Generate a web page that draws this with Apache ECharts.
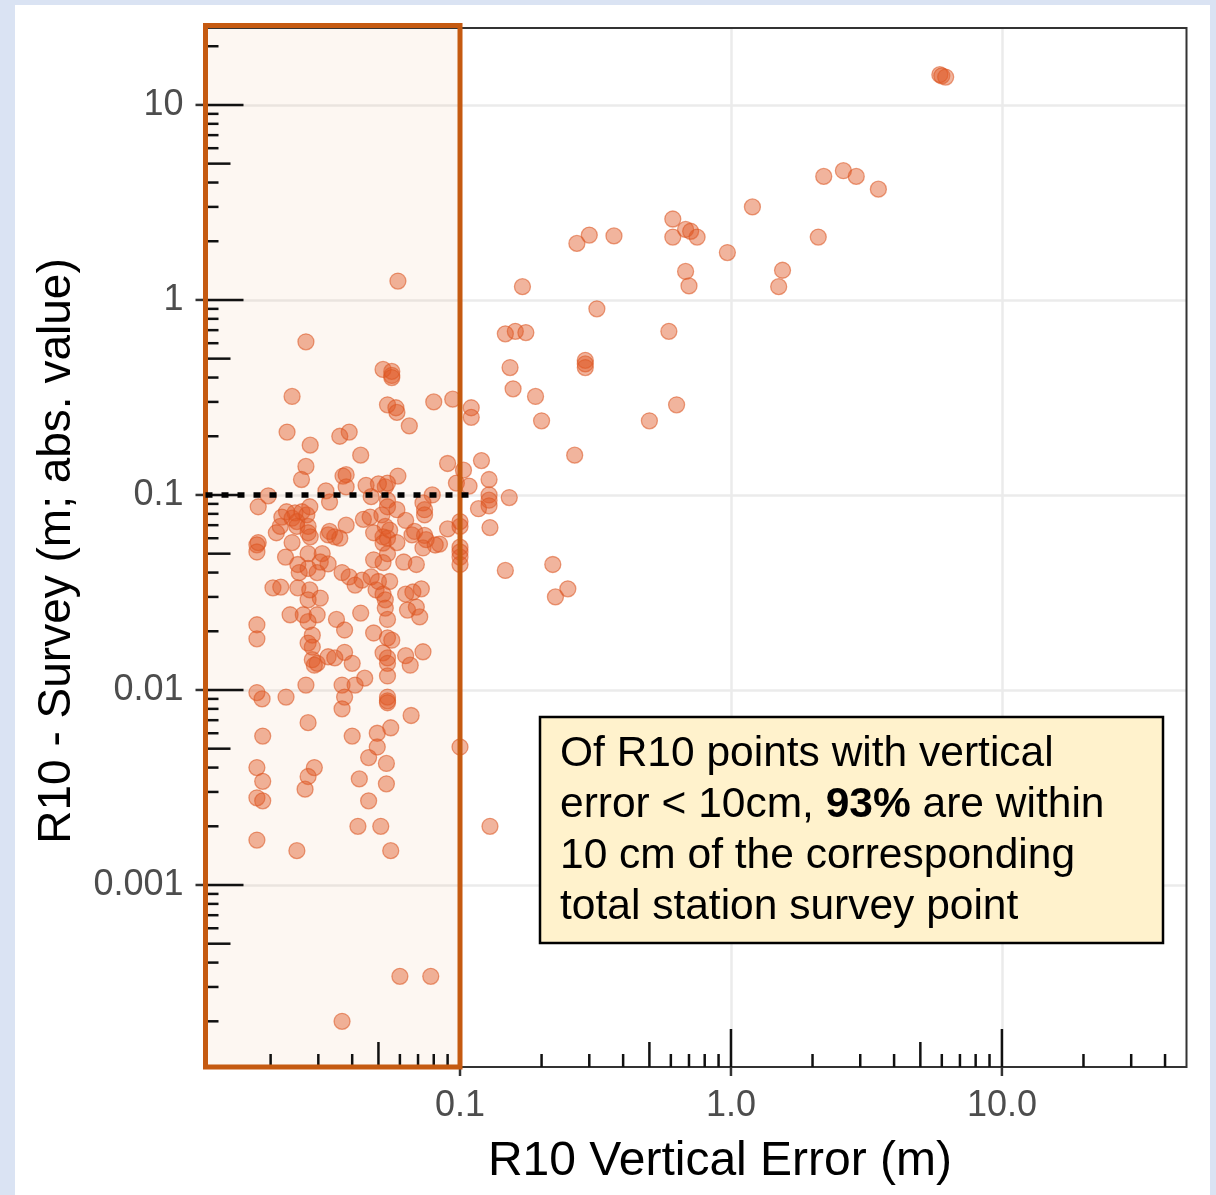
<!DOCTYPE html>
<html>
<head>
<meta charset="utf-8">
<script src="https://cdn.jsdelivr.net/npm/echarts@6/dist/echarts.min.js"></script>
<style>
  html, body { margin: 0; padding: 0; background: #dae3f3; }
  #paper { position: absolute; left: 15px; top: 5px; width: 1195px; height: 1190px; background: #ffffff; }
  #chart { position: absolute; left: 0; top: 0; width: 1216px; height: 1195px; }
</style>
</head>
<body>
<div id="paper"></div>
<div id="chart"></div>
<script>
// ---- Data ----
// R10 vertical error (m), x axis
const verticalError = [
  5.9, 6.0, 6.2,
  2.2, 2.6, 2.9, 3.5,
  1.2, 0.61, 0.68, 0.71, 0.75, 0.61, 0.97, 2.1,
  0.68, 0.70, 1.55, 1.5,
  0.27, 0.30, 0.37, 0.17, 0.32,
  0.147, 0.16, 0.175, 0.59,
  0.29, 0.29, 0.29,
  0.153, 0.19, 0.157, 0.20, 0.50, 0.63, 0.265,
  0.11, 0.11, 0.094, 0.08,
  0.09, 0.103, 0.12, 0.128, 0.097, 0.108,
  0.128, 0.128, 0.128, 0.152, 0.117, 0.129, 0.09,
  0.1, 0.1, 0.1, 0.1, 0.1, 0.1, 0.084,
  0.147, 0.22, 0.25, 0.225,
  0.1, 0.129,
  0.059, 0.027,
  0.052, 0.056, 0.056, 0.056,
  0.024, 0.054, 0.058, 0.0585, 0.065,
  0.023, 0.028, 0.036, 0.039, 0.043,
  0.027, 0.026, 0.037, 0.038, 0.038,
  0.0196, 0.032, 0.018, 0.045, 0.033,
  0.0229, 0.0246, 0.0261, 0.0272, 0.0279,
  0.022, 0.024, 0.025,
  0.021, 0.0217, 0.025, 0.0275, 0.0275, 0.028,
  0.0178, 0.018, 0.0178, 0.024,
  0.0326, 0.0345, 0.036, 0.033, 0.038, 0.044,
  0.0275, 0.031, 0.0227, 0.0305, 0.0326,
  0.0252, 0.0255, 0.0275, 0.0297, 0.0367,
  0.0204, 0.0218, 0.0252, 0.0279, 0.0305, 0.0275,
  0.0236, 0.0264, 0.0297, 0.035, 0.043,
  0.041, 0.0435, 0.039,
  0.059, 0.053, 0.05, 0.054, 0.079, 0.047,
  0.054, 0.054, 0.073, 0.074, 0.074, 0.0585, 0.063,
  0.0466, 0.0515, 0.053, 0.055, 0.048, 0.052,
  0.054, 0.0585, 0.052, 0.0665, 0.068,
  0.074, 0.075, 0.073, 0.081,
  0.054, 0.048, 0.052, 0.062, 0.069,
  0.047, 0.050, 0.055, 0.049, 0.052, 0.053,
  0.063, 0.067, 0.072, 0.064, 0.069, 0.071, 0.053,
  0.0275, 0.0375,
  0.0178, 0.0178,
  0.0285, 0.0275, 0.0285,
  0.0285, 0.0297, 0.029,
  0.0326, 0.0345, 0.0375, 0.040, 0.0445,
  0.027, 0.0367, 0.041, 0.0375, 0.0367,
  0.0178, 0.0186, 0.0228, 0.0275,
  0.0187, 0.040, 0.0178, 0.0187, 0.0178, 0.0187,
  0.029, 0.0275, 0.0268, 0.0425, 0.042, 0.0178, 0.025,
  0.046, 0.046,
  0.054, 0.048, 0.054, 0.056,
  0.052, 0.054, 0.054, 0.063, 0.0655, 0.073,
  0.054, 0.054, 0.054, 0.054,
  0.066, 0.0555, 0.0495, 0.0495,
  0.0535, 0.0535, 0.051, 0.0555,
  0.060, 0.078, 0.0367
];
// R10 - Survey (m; abs. value), y axis
const surveyDiff = [
  14.3, 14.1, 13.9,
  4.3, 4.6, 4.3, 3.7,
  3.0, 2.6, 2.3, 2.25, 2.1, 2.1, 1.75, 2.1,
  1.4, 1.18, 1.42, 1.17,
  1.95, 2.15, 2.13, 1.17, 0.90,
  0.67, 0.69, 0.68, 0.69,
  0.49, 0.47, 0.45,
  0.45, 0.32, 0.35, 0.24, 0.24, 0.29, 0.16,
  0.28, 0.25, 0.31, 0.30,
  0.145, 0.134, 0.15, 0.12, 0.115, 0.111,
  0.10, 0.094, 0.088, 0.097, 0.085, 0.068, 0.067,
  0.073, 0.069, 0.054, 0.051, 0.048, 0.044, 0.056,
  0.041, 0.044, 0.033, 0.030,
  0.0051, 0.0020,
  1.25, 0.61,
  0.44, 0.43, 0.41, 0.40,
  0.32, 0.29, 0.28, 0.265, 0.226,
  0.21, 0.18, 0.20, 0.21, 0.16,
  0.14, 0.12, 0.125, 0.127, 0.11,
  0.099, 0.105, 0.087, 0.112, 0.092,
  0.082, 0.081, 0.082, 0.079, 0.087,
  0.077, 0.076, 0.073,
  0.064, 0.069, 0.069, 0.069, 0.064, 0.061,
  0.0555, 0.057, 0.051, 0.057,
  0.0624, 0.061, 0.060, 0.065, 0.070, 0.075,
  0.050, 0.050, 0.048, 0.0453, 0.0443,
  0.044, 0.040, 0.042, 0.040, 0.040,
  0.0334, 0.0337, 0.0334, 0.0326, 0.0296, 0.029,
  0.0243, 0.0243, 0.0243, 0.023, 0.0248,
  0.0345, 0.0366, 0.038,
  0.125, 0.11, 0.114, 0.115, 0.10, 0.098,
  0.094, 0.087, 0.091, 0.084, 0.079, 0.084, 0.074,
  0.077, 0.079, 0.069, 0.066, 0.064, 0.061,
  0.060, 0.057, 0.0567, 0.0624, 0.065,
  0.062, 0.059, 0.0535, 0.0554,
  0.050, 0.0465, 0.045, 0.0453, 0.044,
  0.038, 0.036, 0.036, 0.0326, 0.031, 0.029,
  0.031, 0.0318, 0.033, 0.0257, 0.0266, 0.0237, 0.0263,
  0.0224, 0.0203,
  0.0216, 0.0183,
  0.0191, 0.0174, 0.0166,
  0.0143, 0.0137, 0.0134,
  0.0148, 0.0146, 0.0156, 0.0137, 0.0115,
  0.0106, 0.0106, 0.0106, 0.0092, 0.0080,
  0.0097, 0.0090, 0.0092, 0.0068,
  0.0058, 0.0058, 0.0040, 0.0034, 0.0028, 0.0027,
  0.0040, 0.0036, 0.0031, 0.0035, 0.0020, 0.0017, 0.0015,
  0.0045, 0.0027,
  0.023, 0.0196, 0.0185, 0.018,
  0.0155, 0.0146, 0.0137, 0.015, 0.0134, 0.0157,
  0.0118, 0.0092, 0.0088, 0.0086,
  0.0074, 0.0064, 0.006, 0.0051,
  0.0042, 0.0033, 0.0020, 0.0015,
  0.00034, 0.00034, 0.0002
];

// Axis ranges and tick labels
const X_MIN = 0.0115, X_MAX = 48.0;
const Y_MIN = 0.0001166, Y_MAX = 24.8;
const xLabelValues = [0.1, 1, 10];
const xLabelTexts = ['0.1', '1.0', '10.0'];
const yLabelValues = [0.001, 0.01, 0.1, 1, 10];
const yLabelTexts = ['0.001', '0.01', '0.1', '1', '10'];
const xDecades = [0.01, 0.1, 1, 10];
const yDecades = [0.0001, 0.001, 0.01, 0.1, 1, 10];
const logMultipliers = [1, 2, 3, 4, 5, 6, 7, 8, 9];
const shadedMaxX = 0.1;      // shaded region: vertical error < 10 cm
const thresholdY = 0.1;      // dotted 10 cm line
const thresholdLineEndX = 0.113;

// ---- Build helpers ----
const scatterData = verticalError.map((x, i) => [x, surveyDiff[i]]);
const xLogTicks = [];
xDecades.forEach(d => logMultipliers.forEach(m => {
  const v = m * d;
  if (v > X_MIN && v < X_MAX) xLogTicks.push([v, Y_MIN, m]);
}));
const yLogTicks = [];
yDecades.forEach(d => logMultipliers.forEach(m => {
  const v = m * d;
  if (v > Y_MIN && v < Y_MAX) yLogTicks.push([X_MIN, v, m]);
}));
function labelFor(values, texts, v) {
  for (let i = 0; i < values.length; i++) {
    if (Math.abs(Math.log10(v) - Math.log10(values[i])) < 1e-6) return texts[i];
  }
  return '';
}
const FONT = '"Liberation Sans", Arial, Helvetica, sans-serif';
const tickLen = m => (m === 1 ? 38 : (m === 5 ? 25 : 13));

const chart = echarts.init(document.getElementById('chart'), null, { renderer: 'canvas' });
const option = {
  backgroundColor: 'transparent',
  animation: false,
  grid: { left: 205.5, right: 29.5, top: 28, bottom: 128, show: false, outerBoundsMode: 'none' },
  xAxis: {
    type: 'log', logBase: 10, min: X_MIN, max: X_MAX,
    axisLine: { show: false },
    axisTick: { show: false },
    splitLine: { show: true, showMinLine: false, showMaxLine: false, lineStyle: { color: '#ebebeb', width: 2.5 } },
    axisLabel: {
      show: true, showMinLabel: false, showMaxLabel: false, margin: 21,
      color: '#4d4d4d', fontSize: 36, fontFamily: FONT,
      formatter: v => labelFor(xLabelValues, xLabelTexts, v)
    }
  },
  yAxis: {
    type: 'log', logBase: 10, min: Y_MIN, max: Y_MAX,
    axisLine: { show: false },
    axisTick: { show: false },
    splitLine: { show: true, showMinLine: false, showMaxLine: false, lineStyle: { color: '#ebebeb', width: 2.5 } },
    axisLabel: {
      show: true, showMinLabel: false, showMaxLabel: false, margin: 22,
      color: '#4d4d4d', fontSize: 36, fontFamily: FONT,
      formatter: v => labelFor(yLabelValues, yLabelTexts, v)
    }
  },
  series: [
    { // shaded region fill
      type: 'custom', z: 1, clip: false, silent: true,
      data: [[X_MIN, Y_MAX]],
      renderItem: (params, api) => {
        const p1 = api.coord([X_MIN, Y_MAX]);
        const p2 = api.coord([shadedMaxX, Y_MIN]);
        return { type: 'rect', shape: { x: p1[0], y: p1[1], width: p2[0] - p1[0], height: p2[1] - p1[1] },
                 style: { fill: 'rgba(220,140,70,0.07)' } };
      }
    },
    { // points
      type: 'scatter', z: 3, data: scatterData, symbol: 'circle', symbolSize: 16,
      itemStyle: { color: 'rgba(224,88,36,0.56)', borderColor: 'rgba(220,86,34,0.7)', borderWidth: 1.3 }
    },
    { // panel border
      type: 'custom', z: 4, clip: false, silent: true,
      data: [[X_MIN, Y_MAX]],
      renderItem: (params, api) => {
        const p1 = api.coord([X_MIN, Y_MAX]);
        const p2 = api.coord([X_MAX, Y_MIN]);
        return { type: 'rect', shape: { x: p1[0], y: p1[1], width: p2[0] - p1[0], height: p2[1] - p1[1] },
                 style: { fill: null, stroke: '#333333', lineWidth: 2 } };
      }
    },
    { // x log ticks (inside, along bottom)
      type: 'custom', z: 4, clip: false, silent: true, data: xLogTicks,
      renderItem: (params, api) => {
        const p = api.coord([api.value(0), api.value(1)]);
        const len = tickLen(api.value(2));
        const children = [{ type: 'line', shape: { x1: p[0], y1: p[1], x2: p[0], y2: p[1] - len }, style: { stroke: '#111', lineWidth: 2.5 } }];
        if (api.value(2) === 1) children.push({ type: 'line', shape: { x1: p[0], y1: p[1], x2: p[0], y2: p[1] + 9 }, style: { stroke: '#333', lineWidth: 2.5 } });
        return { type: 'group', children };
      }
    },
    { // y log ticks (inside, along left)
      type: 'custom', z: 4, clip: false, silent: true, data: yLogTicks,
      renderItem: (params, api) => {
        const p = api.coord([api.value(0), api.value(1)]);
        const len = tickLen(api.value(2));
        const children = [{ type: 'line', shape: { x1: p[0], y1: p[1], x2: p[0] + len, y2: p[1] }, style: { stroke: '#111', lineWidth: 2.5 } }];
        if (api.value(2) === 1) children.push({ type: 'line', shape: { x1: p[0], y1: p[1], x2: p[0] - 10, y2: p[1] }, style: { stroke: '#333', lineWidth: 2.5 } });
        return { type: 'group', children };
      }
    },
    { // shaded region border
      type: 'custom', z: 5, clip: false, silent: true,
      data: [[X_MIN, Y_MAX]],
      renderItem: (params, api) => {
        const p1 = api.coord([X_MIN, Y_MAX]);
        const p2 = api.coord([shadedMaxX, Y_MIN]);
        return { type: 'rect', shape: { x: p1[0], y: p1[1] - 2.5, width: p2[0] - p1[0], height: p2[1] - p1[1] + 2.5 },
                 style: { fill: null, stroke: '#c55a11', lineWidth: 5 } };
      }
    },
    { // dotted 0.1 m line
      type: 'custom', z: 6, clip: false, silent: true,
      data: [[X_MIN, thresholdY]],
      renderItem: (params, api) => {
        const p1 = api.coord([X_MIN, thresholdY]);
        const p2 = api.coord([thresholdLineEndX, thresholdY]);
        return { type: 'line', shape: { x1: p1[0], y1: p1[1], x2: p2[0], y2: p2[1] },
                 style: { stroke: '#000', lineWidth: 5.5, lineDash: [7, 9] } };
      }
    }
  ],
  graphic: [
    { type: 'text', x: 720, y: 1162, z: 100,
      style: { text: 'R10 Vertical Error (m)', fontSize: 48, fontFamily: FONT, fill: '#000', align: 'center', verticalAlign: 'middle' } },
    { type: 'text', x: 57, y: 551, rotation: Math.PI / 2, z: 100,
      style: { text: 'R10 - Survey (m; abs. value)', fontSize: 46, fontFamily: FONT, fill: '#000', align: 'center', verticalAlign: 'middle' } },
    { type: 'rect', z: 100, shape: { x: 540, y: 717, width: 623, height: 226 },
      style: { fill: '#fff2cc', stroke: '#000', lineWidth: 2.5 } },
    { type: 'text', z: 101, x: 560, y: 729,
      style: {
        text: 'Of R10 points with vertical\nerror < 10cm, {b|93%} are within\n10 cm of the corresponding\ntotal station survey point',
        fontSize: 42.5, fontFamily: FONT, fill: '#000', lineHeight: 51,
        rich: { b: { fontSize: 42.5, fontFamily: FONT, fontWeight: 'bold', fill: '#000', lineHeight: 51 } }
      } }
  ]
};
chart.setOption(option);
</script>
</body>
</html>
